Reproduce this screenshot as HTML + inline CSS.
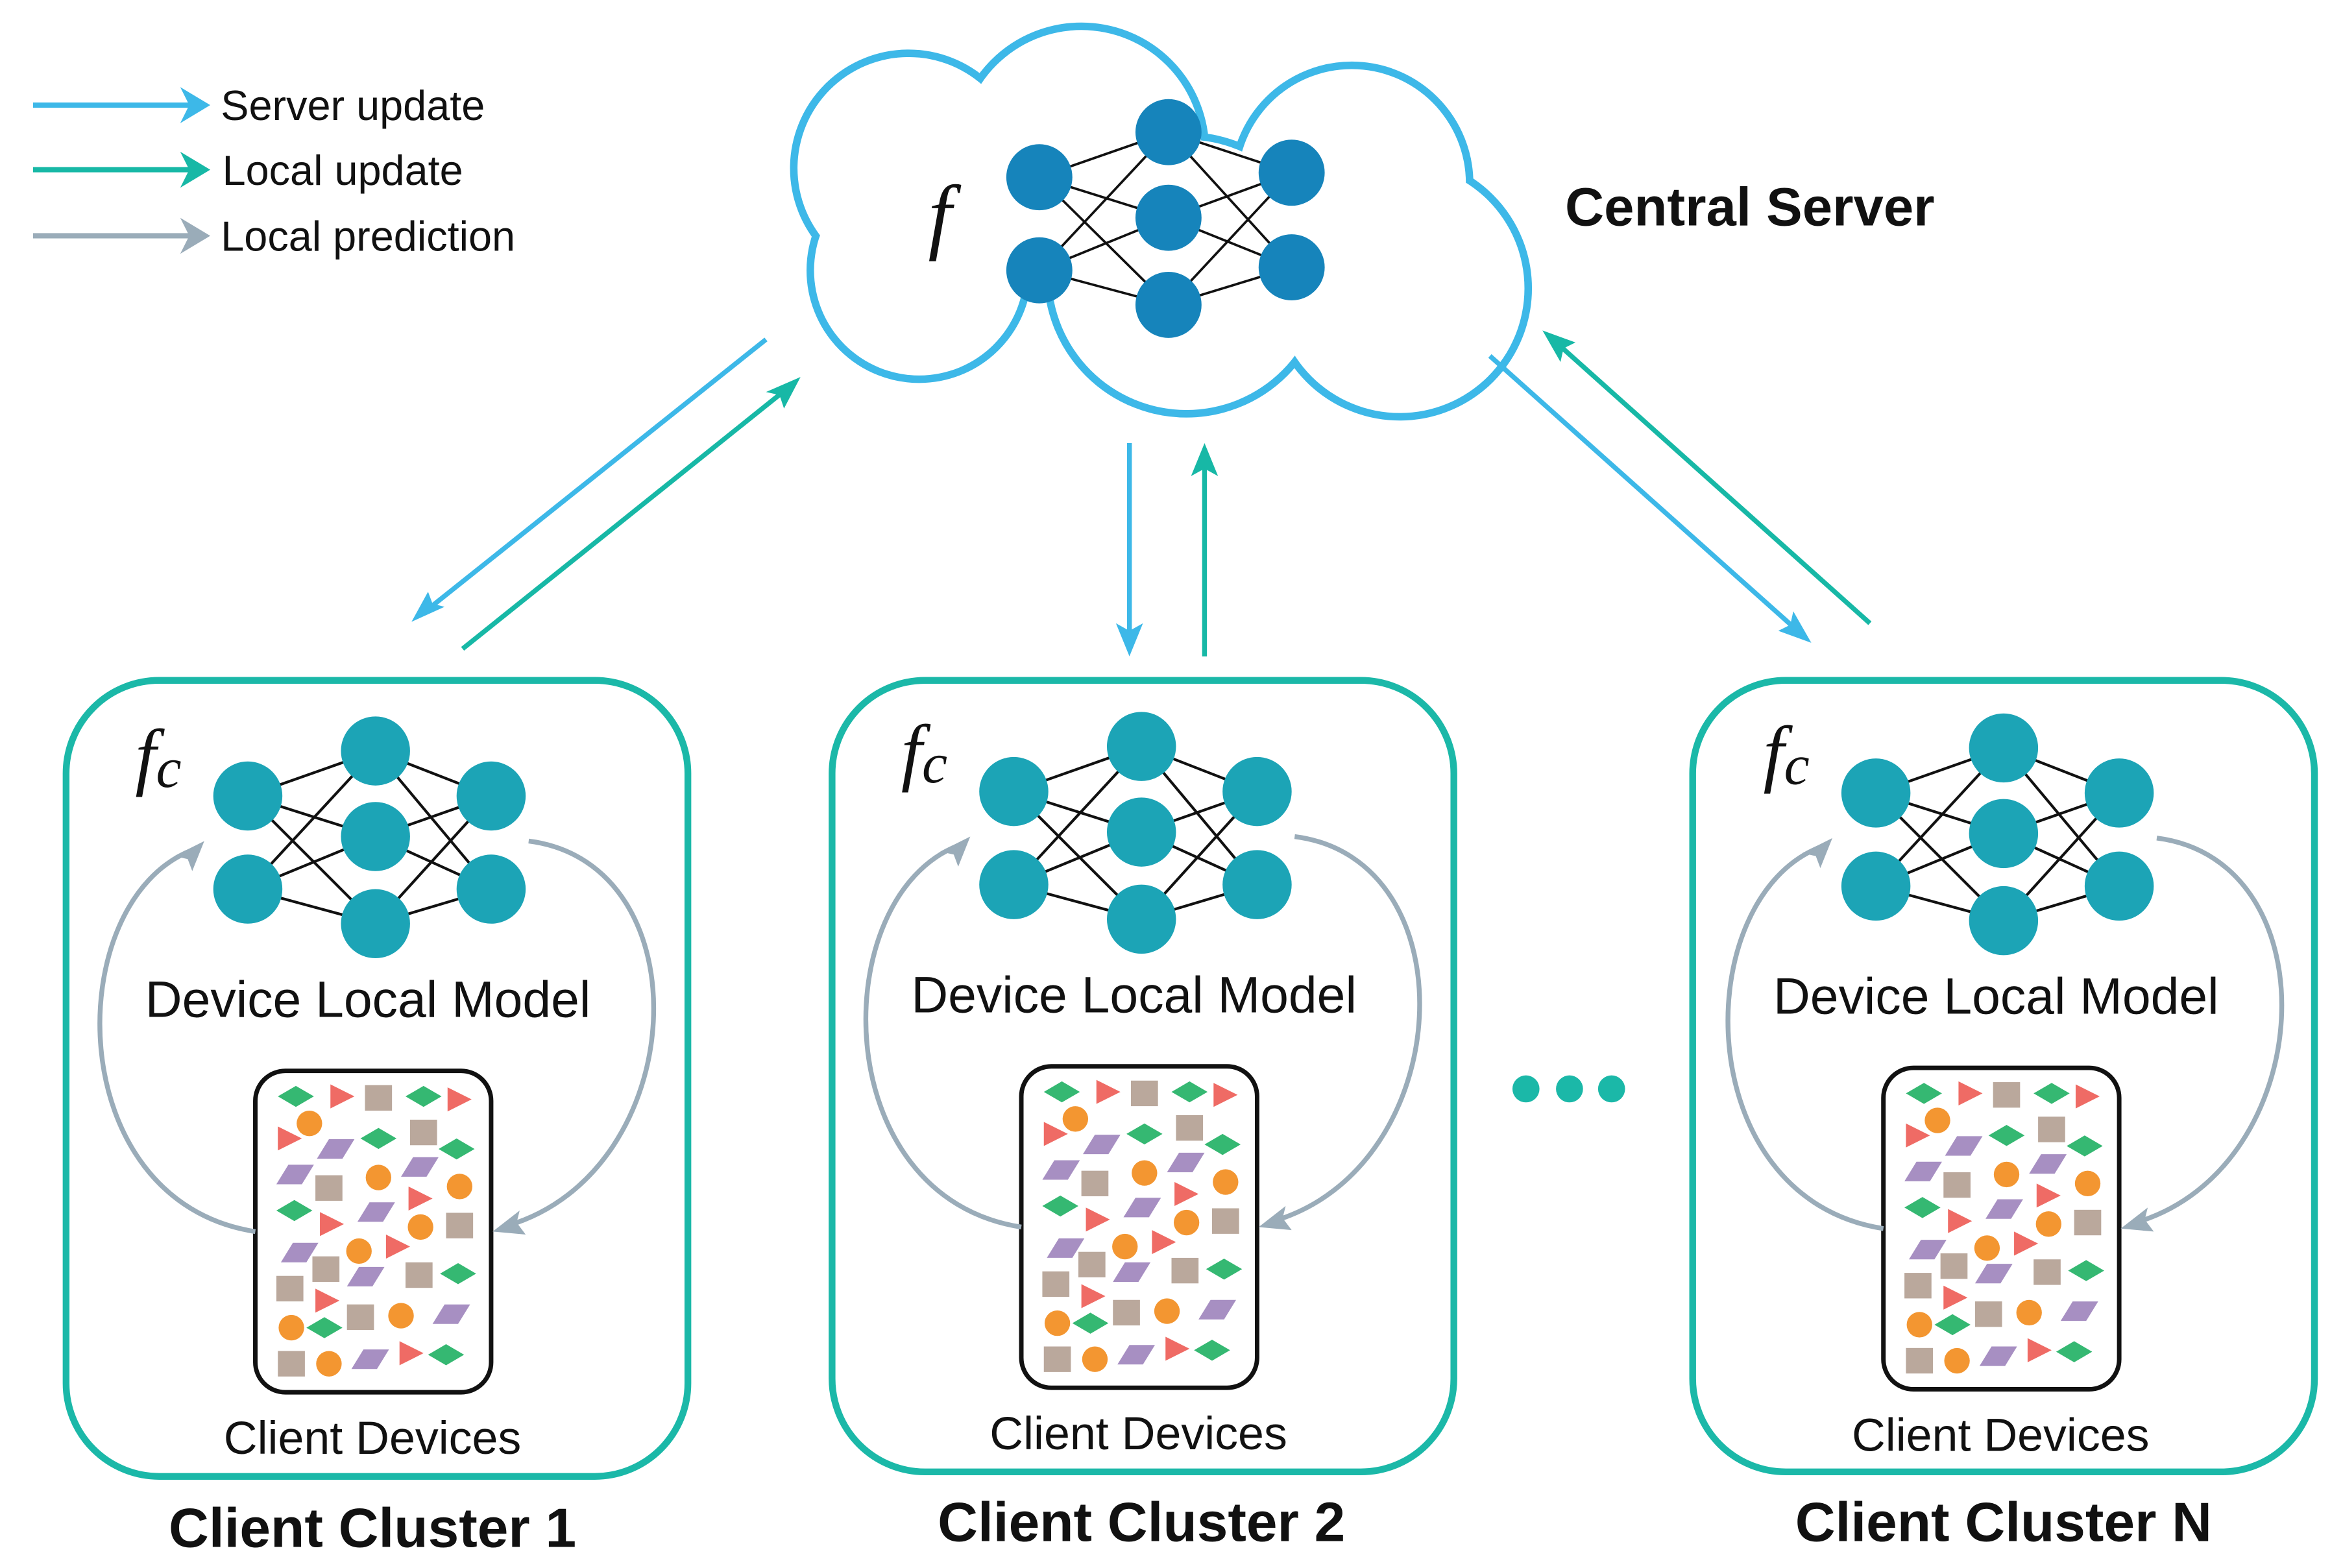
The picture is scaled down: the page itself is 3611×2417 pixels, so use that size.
<!DOCTYPE html>
<html><head><meta charset="utf-8"><style>html,body{margin:0;padding:0;background:#fff}svg{display:block}</style></head>
<body>
<svg xmlns="http://www.w3.org/2000/svg" width="3611" height="2417" viewBox="0 0 1560 1044" preserveAspectRatio="none" font-family="Liberation Sans, sans-serif">
<defs>
<path id="dia" d="M-12,0 L0,-7 L12,0 L0,7Z" fill="#35b872"/>
<path id="tri" d="M-8,-8 L8,0 L-8,8Z" fill="#ef6b65"/>
<rect id="sq" x="-9" y="-8.5" width="18" height="17" fill="#baa89c"/>
<circle id="ci" r="8.5" fill="#f39631"/>
<path id="pa" d="M-12,6.5 L-4,-6.5 L13,-6.5 L5,6.5Z" fill="#a78fc2"/>
<g id="pat">
<use href="#dia" x="197" y="730"/><use href="#tri" x="228" y="730"/><use href="#sq" x="252" y="731"/><use href="#dia" x="282" y="730"/><use href="#tri" x="306" y="732"/>
<use href="#tri" x="193" y="758"/><use href="#ci" x="206" y="748"/><use href="#pa" x="223" y="765"/><use href="#dia" x="252" y="758"/><use href="#sq" x="282" y="754"/><use href="#dia" x="304" y="765"/>
<use href="#pa" x="196" y="782"/><use href="#sq" x="219" y="791"/><use href="#ci" x="252" y="784"/><use href="#pa" x="279" y="777"/><use href="#ci" x="306" y="790"/>
<use href="#dia" x="196" y="806"/><use href="#tri" x="221" y="815"/><use href="#pa" x="250" y="807"/><use href="#tri" x="280" y="798"/><use href="#ci" x="280" y="817"/><use href="#sq" x="306" y="816"/>
<use href="#pa" x="199" y="834"/><use href="#ci" x="239" y="833"/><use href="#tri" x="265" y="830"/><use href="#sq" x="217" y="845"/>
<use href="#sq" x="193" y="858"/><use href="#pa" x="243" y="850"/><use href="#sq" x="279" y="849"/><use href="#dia" x="305" y="848"/>
<use href="#tri" x="218" y="866"/><use href="#sq" x="240" y="877"/><use href="#ci" x="267" y="876"/><use href="#pa" x="300" y="875"/>
<use href="#ci" x="194" y="884"/><use href="#dia" x="216" y="884"/>
<use href="#sq" x="194" y="908"/><use href="#ci" x="219" y="908"/><use href="#pa" x="246" y="905"/><use href="#tri" x="274" y="901"/><use href="#dia" x="297" y="902"/>
</g>
<g id="nn">
<g stroke="#111" stroke-width="1.8">
<line x1="165" y1="530" x2="250" y2="500"/><line x1="165" y1="530" x2="250" y2="557"/><line x1="165" y1="530" x2="250" y2="615"/>
<line x1="165" y1="592" x2="250" y2="500"/><line x1="165" y1="592" x2="250" y2="557"/><line x1="165" y1="592" x2="250" y2="615"/>
<line x1="327" y1="530" x2="250" y2="500"/><line x1="327" y1="530" x2="250" y2="557"/><line x1="327" y1="530" x2="250" y2="615"/>
<line x1="327" y1="592" x2="250" y2="500"/><line x1="327" y1="592" x2="250" y2="557"/><line x1="327" y1="592" x2="250" y2="615"/>
</g>
<g fill="#1ca4b6">
<circle cx="165" cy="530" r="23"/><circle cx="165" cy="592" r="23"/>
<circle cx="250" cy="500" r="23"/><circle cx="250" cy="557" r="23"/><circle cx="250" cy="615" r="23"/>
<circle cx="327" cy="530" r="23"/><circle cx="327" cy="592" r="23"/>
</g>
</g>
</defs>

<!-- legend -->
<g stroke-width="3.5">
<line x1="22" y1="70" x2="130" y2="70" stroke="#3db8e8"/>
<line x1="22" y1="113" x2="130" y2="113" stroke="#17b8a6"/>
<line x1="22" y1="157" x2="130" y2="157" stroke="#9aacb9"/>
</g>
<path d="M120,58 L140,70 L120,82 L126,70Z" fill="#3db8e8"/>
<path d="M120,101 L140,113 L120,125 L126,113Z" fill="#17b8a6"/>
<path d="M120,145 L140,157 L120,169 L126,157Z" fill="#9aacb9"/>
<g font-size="28" fill="#111">
<text x="147" y="80">Server update</text>
<text x="148" y="123">Local update</text>
<text x="147" y="167">Local prediction</text>
</g>

<!-- cloud -->
<g fill="none" stroke="#3db8e8" stroke-width="10">
<circle cx="605" cy="112" r="74"/><circle cx="720" cy="100" r="80"/><circle cx="900" cy="122" r="76"/>
<circle cx="932" cy="192" r="83"/><circle cx="790" cy="183" r="90"/><circle cx="612" cy="180" r="70"/>
</g>
<g fill="#fff">
<circle cx="605" cy="112" r="74"/><circle cx="720" cy="100" r="80"/><circle cx="900" cy="122" r="76"/>
<circle cx="932" cy="192" r="83"/><circle cx="790" cy="183" r="90"/><circle cx="612" cy="180" r="70"/>
</g>
<g stroke="#111" stroke-width="1.6">
<line x1="692" y1="118" x2="778" y2="88"/><line x1="692" y1="118" x2="778" y2="145"/><line x1="692" y1="118" x2="778" y2="203"/>
<line x1="692" y1="180" x2="778" y2="88"/><line x1="692" y1="180" x2="778" y2="145"/><line x1="692" y1="180" x2="778" y2="203"/>
<line x1="860" y1="115" x2="778" y2="88"/><line x1="860" y1="115" x2="778" y2="145"/><line x1="860" y1="115" x2="778" y2="203"/>
<line x1="860" y1="178" x2="778" y2="88"/><line x1="860" y1="178" x2="778" y2="145"/><line x1="860" y1="178" x2="778" y2="203"/>
</g>
<g fill="#1684bb">
<circle cx="692" cy="118" r="22"/><circle cx="692" cy="180" r="22"/>
<circle cx="778" cy="88" r="22"/><circle cx="778" cy="145" r="22"/><circle cx="778" cy="203" r="22"/>
<circle cx="860" cy="115" r="22"/><circle cx="860" cy="178" r="22"/>
</g>
<text x="618" y="162" font-family="Liberation Serif, serif" font-style="italic" font-size="56" fill="#111">f</text>
<text x="1042" y="150" font-size="36" font-weight="bold" fill="#111">Central Server</text>

<!-- server/cluster arrows -->
<g stroke-width="3.2" fill="none">
<line x1="510" y1="226" x2="282" y2="408" stroke="#3db8e8"/>
<line x1="308" y1="432" x2="525" y2="258" stroke="#17b8a6"/>
<line x1="752" y1="295" x2="752" y2="428" stroke="#3db8e8"/>
<line x1="802" y1="437" x2="802" y2="304" stroke="#17b8a6"/>
<line x1="992" y1="237" x2="1198" y2="421" stroke="#3db8e8"/>
<line x1="1245" y1="415" x2="1035" y2="227" stroke="#17b8a6"/>
</g>
<g>
<path d="M274,414 L285,394 L288,402 L296,404Z" fill="#3db8e8"/>
<path d="M533,251 L522,272 L519,263 L510,261Z" fill="#17b8a6"/>
<path d="M752,437 L743,415 L752,420 L761,415Z" fill="#3db8e8"/>
<path d="M802,295 L793,317 L802,312 L811,317Z" fill="#17b8a6"/>
<path d="M1206,428 L1184,420 L1192,416 L1194,407Z" fill="#3db8e8"/>
<path d="M1027,220 L1049,228 L1041,232 L1039,241Z" fill="#17b8a6"/>
</g>

<!-- clusters -->
<g fill="none" stroke="#1bb8a8" stroke-width="4.5">
<rect x="44" y="453" width="414" height="530" rx="62"/>
<rect x="554" y="453" width="414" height="527" rx="62"/>
<rect x="1127" y="453" width="414" height="527" rx="62"/>
</g>

<g id="c1">
<use href="#nn"/>
<text x="90" y="520" font-family="Liberation Serif, serif" font-style="italic" font-size="50" fill="#111">f<tspan font-size="38" dy="4">c</tspan></text>
<text x="245" y="677" text-anchor="middle" font-size="34" fill="#111">Device Local Model</text>
<rect x="170" y="713" width="157" height="214" rx="20" fill="#fff" stroke="#111" stroke-width="3"/>
<use href="#pat"/>
<text x="248" y="968" text-anchor="middle" font-size="31" fill="#111">Client Devices</text>
<path d="M170,820 C40,800 40,600 128,566" fill="none" stroke="#9aacb9" stroke-width="3.2"/>
<path d="M136,560 L128,580 L125,572 L116,570Z" fill="#9aacb9"/>
<path d="M352,560 C470,575 460,780 338,816" fill="none" stroke="#9aacb9" stroke-width="3.2"/>
<path d="M328,820 L346,806 L344,814 L350,822Z" fill="#9aacb9"/>
</g>
<use href="#c1" x="510" y="-3"/>
<use href="#c1" x="1084" y="-2"/>

<g font-size="37" font-weight="bold" fill="#111" text-anchor="middle">
<text x="248" y="1030">Client Cluster 1</text>
<text x="760" y="1026">Client Cluster 2</text>
<text x="1334" y="1026">Client Cluster N</text>
</g>
<g fill="#1bb8a8"><circle cx="1016" cy="725" r="9"/><circle cx="1045" cy="725" r="9"/><circle cx="1073" cy="725" r="9"/></g>
</svg>
</body></html>
